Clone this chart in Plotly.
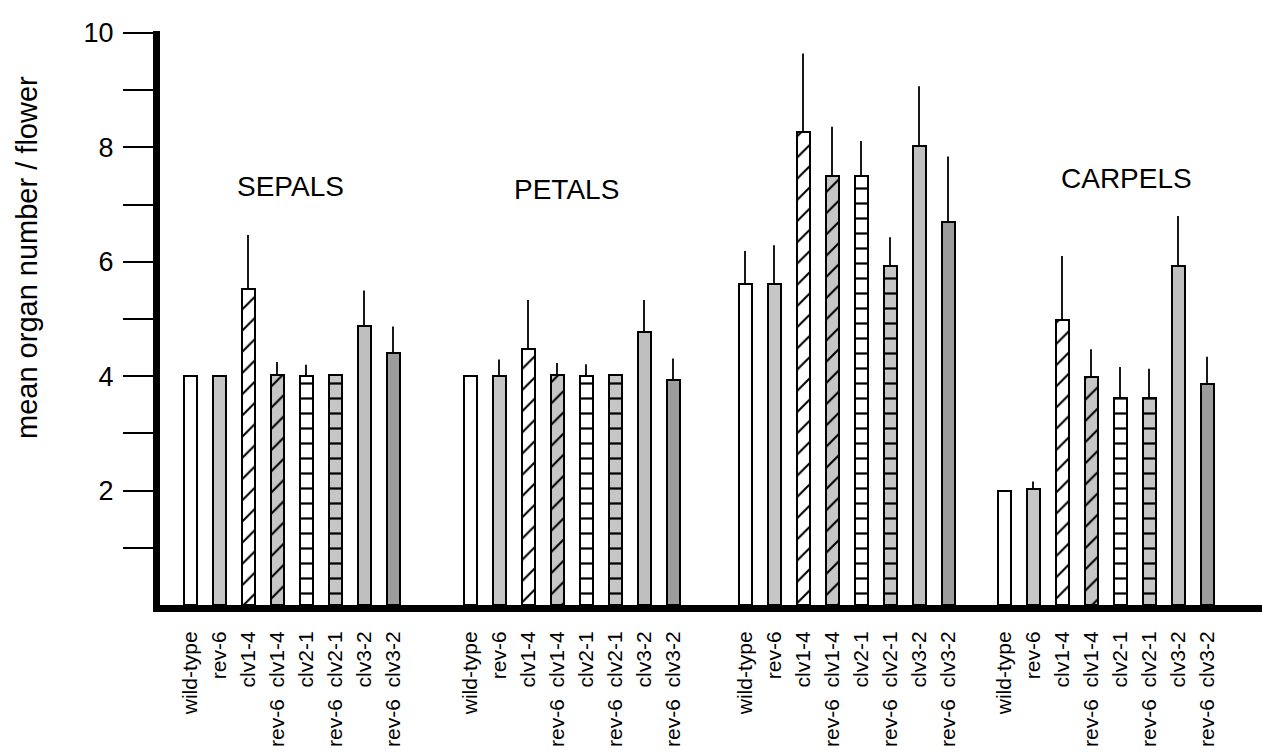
import plotly.graph_objects as go

# ---------------- data ----------------
organs = ["SEPALS", "PETALS", "STAMENS", "CARPELS"]
genotypes = ["wild-type", "rev-6", "clv1-4", "rev-6 clv1-4",
             "clv2-1", "rev-6 clv2-1", "clv3-2", "rev-6 clv3-2"]

# mean organ number per flower, order: sepals, petals, stamens, carpels
wild_type = [4.0, 4.0, 5.62, 2.0]
rev6 = [4.0, 4.01, 5.62, 2.02]
clv1_4 = [5.53, 4.47, 8.27, 4.98]
rev6_clv1_4 = [4.02, 4.02, 7.5, 3.99]
clv2_1 = [4.0, 4.0, 7.5, 3.62]
rev6_clv2_1 = [4.02, 4.02, 5.93, 3.62]
clv3_2 = [4.87, 4.77, 8.02, 5.93]
rev6_clv3_2 = [4.4, 3.94, 6.7, 3.86]

# standard deviations (drawn upward only)
wild_type_sd = [0.0, 0.0, 0.57, 0.0]
rev6_sd = [0.0, 0.28, 0.67, 0.14]
clv1_4_sd = [0.94, 0.86, 1.37, 1.12]
rev6_clv1_4_sd = [0.23, 0.21, 0.86, 0.48]
clv2_1_sd = [0.2, 0.21, 0.61, 0.54]
rev6_clv2_1_sd = [0.0, 0.0, 0.5, 0.51]
clv3_2_sd = [0.63, 0.56, 1.05, 0.87]
rev6_clv3_2_sd = [0.47, 0.37, 1.14, 0.48]

values = [wild_type, rev6, clv1_4, rev6_clv1_4, clv2_1, rev6_clv2_1, clv3_2, rev6_clv3_2]
sds = [wild_type_sd, rev6_sd, clv1_4_sd, rev6_clv1_4_sd, clv2_1_sd,
       rev6_clv2_1_sd, clv3_2_sd, rev6_clv3_2_sd]

y_tick_values = [1, 2, 3, 4, 5, 6, 7, 8, 9, 10]
y_tick_labels = ["", "2", "", "4", "", "6", "", "8", "", "10"]

# ---------------- layout / style ----------------
W, H = 1262, 754
L, R, T, B = 160, 0, 31, 149
PX_PER_UNIT = 57.2
group_x0 = [190, 470, 745, 1004]
bar_step = 29
bar_width = 13
FONT = "Liberation Sans, Arial, Helvetica, sans-serif"

GRAY = "#c6c6c6"
styles = [
    dict(color="white", pattern=dict(shape="")),
    dict(color=GRAY, pattern=dict(shape="")),
    dict(color="white", pattern=dict(shape="/", size=15, solidity=0.14,
                                     fgcolor="black", bgcolor="white", fillmode="replace")),
    dict(color=GRAY, pattern=dict(shape="/", size=15, solidity=0.14,
                                  fgcolor="black", bgcolor=GRAY, fillmode="replace")),
    dict(color="white", pattern=dict(shape="-", size=15, solidity=0.15,
                                     fgcolor="black", bgcolor="white", fillmode="replace")),
    dict(color=GRAY, pattern=dict(shape="-", size=15, solidity=0.15,
                                  fgcolor="black", bgcolor=GRAY, fillmode="replace")),
    dict(color="#bfbfbf", pattern=dict(shape="")),
    dict(color="#9c9c9c", pattern=dict(shape="")),
]

fig = go.Figure()
tickvals, ticktext = [], []
for gi, (name, vals, sd, st) in enumerate(zip(genotypes, values, sds, styles)):
    xs = [group_x0[oi] + gi * bar_step for oi in range(len(organs))]
    tickvals += xs
    ticktext += [name.replace(" ", "\u00a0\u00a0")] * len(organs)
    fig.add_trace(go.Bar(
        x=xs, y=vals, width=bar_width, name=name, showlegend=False,
        marker=dict(color=st["color"], pattern=st["pattern"],
                    line=dict(color="black", width=2)),
        error_y=dict(type="data", array=sd, arrayminus=[0] * len(sd),
                     symmetric=False, width=0, thickness=1.8, color="black"),
    ))

plot_h = H - T - B
y_top = plot_h / PX_PER_UNIT

fig.update_layout(
    width=W, height=H,
    margin=dict(l=L, r=R, t=T, b=B, pad=0),
    paper_bgcolor="white", plot_bgcolor="white",
    font=dict(family=FONT, color="black"),
    bargap=0,
    xaxis=dict(range=[L, W], tickvals=tickvals, ticktext=ticktext,
               tickangle=-90, tickfont=dict(size=21, family=FONT),
               showline=True, linewidth=7, linecolor="black",
               ticks="", showgrid=False, zeroline=False,
               ticklabelstandoff=11),
    yaxis=dict(range=[0, y_top], tickvals=y_tick_values, ticktext=y_tick_labels,
               tickfont=dict(size=27, family=FONT),
               showline=True, linewidth=7, linecolor="black",
               ticks="outside", ticklen=30, tickwidth=1.5, tickcolor="black",
               showgrid=False, zeroline=False, ticklabelstandoff=4),
)

# organ group labels
label_pos = [(290, 7.31), (566, 7.26), (860, 10.18), (1126, 7.46)]
for org, (lx, ly) in zip(organs, label_pos):
    fig.add_annotation(x=lx, y=ly, xref="x", yref="y", text=org, showarrow=False,
                       font=dict(size=28, family=FONT), xanchor="center", yanchor="middle")

fig.add_annotation(x=(27 - L) / (W - L - R), y=(H - B - 258) / plot_h,
                   xref="paper", yref="paper", text="mean organ number / flower",
                   textangle=-90, showarrow=False, font=dict(size=29, family=FONT),
                   xanchor="center", yanchor="middle")

fig.write_html("out.html", config={"displayModeBar": False},
               post_script="document.body.style.margin='0px';")
